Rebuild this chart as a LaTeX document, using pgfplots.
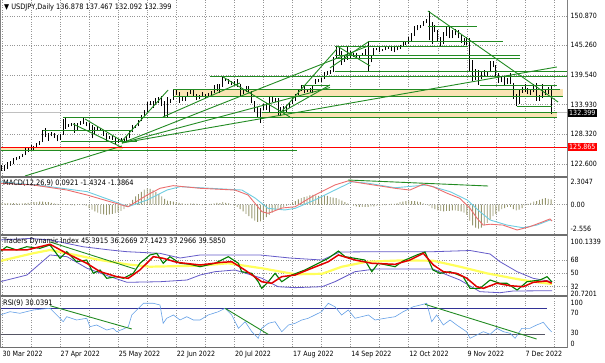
\documentclass[border=0pt]{standalone}
\usepackage{fontspec}
\setmainfont{DejaVu Sans}[FakeStretch=0.88]
\usepackage{pgfplots}
\pgfplotsset{compat=1.18}
\definecolor{gline}{RGB}{34,139,34}
\definecolor{tanc}{RGB}{250,228,180}
\definecolor{gridc}{RGB}{150,150,150}
\definecolor{sepc}{RGB}{110,110,110}
\definecolor{curc}{RGB}{192,192,192}
\definecolor{mred}{RGB}{235,110,110}
\definecolor{mcyan}{RGB}{110,205,225}
\definecolor{mhist}{RGB}{150,150,110}
\definecolor{tblue}{RGB}{100,90,200}
\definecolor{tyel}{RGB}{255,255,90}
\definecolor{tgreen}{RGB}{0,125,0}
\definecolor{tred}{RGB}{225,0,0}
\definecolor{rblue}{RGB}{100,160,230}
\definecolor{lvlb}{RGB}{50,50,150}
\definecolor{lvlg}{RGB}{85,85,100}
\newcommand{\lbl}{\fontsize{7.2}{8}\selectfont}
\newcommand{\ttl}{\fontsize{7.5}{8}\selectfont}
\pgfplotsset{
 panel/.style={scale only axis, width=567pt, xmin=-0.654, xmax=194.46,
   axis line style={draw=none}, tick style={draw=none},
   xtick={0,10,...,190}, xticklabels={}, xmajorgrids,
   major grid style={gridc, dash pattern=on 0.8pt off 1.6pt, line width=0.5pt},
   yticklabel pos=right,
   yticklabel style={font=\lbl, anchor=west, inner sep=0pt, xshift=3.5pt},
   anchor=north west},
 gl/.style={gline, line width=0.9pt},
}
\begin{document}
\begin{tikzpicture}
\path[use as bounding box] (0pt,0pt) rectangle (605pt,-363pt);
% ---------------- price panel ----------------
\begin{axis}[panel, at={(0pt,0pt)}, height=176pt, ymin=120.31, ymax=153.92,
  ytick={122.6,128.32,133.93,139.54,145.26,150.87},
  yticklabels={122.600,128.320,133.930,139.540,145.260,150.870}, ymajorgrids]
\addplot[fill=tanc, draw=none] coordinates {(-0.65,125.14) (41.3,125.14) (41.3,125.865) (-0.65,125.865)} -- cycle;
\addplot[fill=tanc, draw=none] coordinates {(59.6,135.45) (193.1,135.45) (193.1,136.83) (59.6,136.83)} -- cycle;
\addplot[fill=tanc, draw=none] coordinates {(89.5,131.45) (191,131.45) (191,132.40) (89.5,132.40)} -- cycle;
\addplot[curc, line width=0.6pt] coordinates {(-0.654,132.399) (194.46,132.399)};
\addplot[draw=none, mark=none, error bars/.cd, y dir=plus, y explicit, error mark=none,
  error bar style={draw=black, line width=0.85pt}]
  table[x=i, y=l, y error expr=\thisrow{h}-\thisrow{l}] {
i l h
0 121.3 122.4
1 121.3 122.4
2 121.6 123.0
3 122.2 123.1
4 122.6 123.7
5 123.3 124.0
6 123.6 124.1
7 123.9 124.6
8 124.3 125.8
9 124.9 125.6
10 125.1 126.3
11 125.0 126.0
12 125.8 126.6
13 126.2 127.0
14 126.8 129.0
15 127.7 129.4
16 127.0 128.6
17 127.9 128.8
18 127.6 128.6
19 126.9 128.2
20 127.1 128.4
21 128.2 131.2
22 129.3 131.3
23 129.7 130.2
24 129.8 130.4
25 128.6 130.4
26 128.9 130.5
27 130.1 130.8
28 130.3 131.3
29 129.8 130.6
30 129.1 130.4
31 127.5 130.0
32 128.3 129.7
33 128.9 129.6
34 129.0 129.5
35 128.0 129.0
36 127.0 128.6
37 127.4 128.0
38 127.2 128.0
39 126.4 127.8
40 126.6 127.4
41 126.9 127.6
42 126.6 127.3
43 126.9 127.9
44 127.5 128.9
45 128.7 130.0
46 129.5 130.1
47 129.8 131.0
48 130.8 131.9
49 131.8 133.0
50 132.6 134.5
51 133.8 134.6
52 133.3 134.6
53 133.8 135.2
54 134.2 135.4
55 133.6 135.6
56 131.5 134.7
57 131.6 135.4
58 134.3 135.1
59 134.9 136.7
60 135.8 136.7
61 134.3 136.3
62 134.6 135.4
63 134.6 135.5
64 135.4 136.4
65 136.0 137.0
66 135.6 136.9
67 134.8 135.9
68 135.0 135.8
69 135.5 136.4
70 135.3 136.0
71 135.5 136.2
72 135.7 136.6
73 136.2 137.7
74 136.5 137.8
75 136.2 137.9
76 137.3 139.4
77 138.4 139.1
78 137.9 138.9
79 137.6 138.4
80 137.7 138.4
81 137.4 138.9
82 135.6 137.9
83 136.0 136.9
84 136.4 137.5
85 136.3 137.5
86 134.2 136.6
87 132.5 134.6
88 131.6 133.5
89 130.4 133.3
90 132.9 134.0
91 132.9 134.2
92 132.5 135.5
93 134.4 135.6
94 134.5 135.2
95 132.0 135.3
96 131.7 133.4
97 132.6 133.6
98 132.6 133.9
99 133.2 134.5
100 134.0 135.2
101 134.6 135.9
102 135.7 137.0
103 136.6 137.6
104 136.2 137.7
105 136.3 137.0
106 136.3 137.2
107 136.1 137.6
108 137.9 138.8
109 138.2 138.9
110 138.3 139.1
111 138.8 140.2
112 139.6 140.3
113 139.8 140.6
114 140.2 143.0
115 142.9 145.0
116 143.4 144.8
117 141.5 144.1
118 142.1 143.2
119 142.5 144.9
120 142.6 144.2
121 143.0 143.8
122 142.7 143.8
123 142.8 143.5
124 143.2 143.8
125 143.2 144.6
126 140.3 145.9
127 142.0 143.4
128 143.3 144.8
129 144.3 144.8
130 143.9 144.9
131 144.1 144.6
132 144.3 144.9
133 144.6 145.2
134 144.2 145.0
135 143.9 144.9
136 144.3 145.2
137 144.6 145.4
138 145.2 145.9
139 145.4 146.0
140 145.6 146.9
141 146.0 147.7
142 147.1 148.9
143 148.1 149.1
144 148.6 149.2
145 149.0 150.0
146 149.6 150.3
147 146.2 151.9
148 145.5 149.7
149 147.8 149.1
150 146.0 148.2
151 145.1 146.9
152 145.6 147.9
153 147.1 148.8
154 146.6 148.8
155 146.6 148.1
156 147.2 148.4
157 146.6 148.2
158 145.7 147.3
159 145.3 146.7
160 145.3 146.8
161 140.2 146.6
162 138.5 142.5
163 138.7 140.8
164 137.7 140.6
165 138.9 140.3
166 139.2 140.5
167 139.5 140.4
168 140.1 142.3
169 141.1 142.2
170 139.3 141.6
171 138.1 139.9
172 138.2 139.4
173 137.5 139.4
174 137.8 139.0
175 137.8 139.9
176 135.0 138.1
177 133.6 136.0
178 134.1 136.7
179 136.2 137.4
180 136.4 137.8
181 136.0 137.1
182 135.8 136.9
183 136.3 137.9
184 134.7 138.0
185 134.6 135.8
186 135.2 137.9
187 135.8 137.0
188 136.0 137.4
189 132.092 137.467
};
% horizontal levels
\addplot[gl] coordinates {(-0.65,125.14) (101.5,125.14)};
\addplot[gl] coordinates {(14.1,129.1) (45.1,129.1)};
\addplot[gl] coordinates {(20.3,126.99) (46.5,126.99)};
\addplot[gl] coordinates {(21.0,131.45) (191,131.45)};
\addplot[gl] coordinates {(89.5,132.40) (191,132.40)};
\addplot[gl] coordinates {(58.9,135.45) (193.1,135.45)};
\addplot[gl] coordinates {(58.9,136.83) (192.1,136.83)};
\addplot[gl] coordinates {(164.5,137.69) (191,137.69)};
\addplot[gl] coordinates {(177.3,133.68) (189.3,133.68)};
\addplot[gl] coordinates {(71.6,139.41) (194.5,139.41)};
\addplot[gl] coordinates {(114.6,140.36) (194.5,140.36)};
\addplot[gl] coordinates {(114.6,142.79) (178.3,142.79)};
\addplot[gl] coordinates {(114.6,143.42) (178.3,143.42)};
\addplot[gl] coordinates {(114.6,145.14) (160.4,145.14)};
\addplot[gl] coordinates {(126,145.96) (172.4,145.96)};
\addplot[gl] coordinates {(146.6,148.96) (163.5,148.96)};
\addplot[gl] coordinates {(103.3,137.69) (112.9,137.69)};
% trend lines
\addplot[gl] coordinates {(7.95,120.31) (41.3,126.04)};
\addplot[gl] coordinates {(41.3,126.61) (126,145.14)};
\addplot[gl] coordinates {(41.3,126.61) (191,141.13)};
\addplot[gl] coordinates {(41.3,126.61) (112.9,137.2)};
\addplot[gl] coordinates {(41.3,126.99) (57.2,136.73)};
\addplot[gl] coordinates {(55.4,131.58) (81.9,138.07)};
\addplot[gl] coordinates {(28.6,131.2) (41.3,126.99)};
\addplot[gl] coordinates {(24.5,130.24) (41.7,125.66)};
\addplot[gl] coordinates {(76.1,139.22) (99.1,131.58)};
\addplot[gl] coordinates {(95.7,132.28) (115.3,144.6)};
\addplot[gl] coordinates {(95.7,132.28) (112.9,137.69)};
\addplot[gl] coordinates {(115.3,145.14) (126.7,141.32)};
\addplot[gl] coordinates {(112.9,140.94) (126,145.9)};
\addplot[gl] coordinates {(146.6,151.82) (191.4,134.44)};
\addplot[red, line width=0.6pt] coordinates {(-0.654,125.865) (194.46,125.865)};
\end{axis}
% ---------------- MACD panel ----------------
\begin{axis}[panel, at={(0pt,-178pt)}, height=56pt, ymin=-2.556, ymax=2.3047,
  ytick={-2.12,0,1.957}, yticklabels={-2.556,0.00,2.3047}]
\addplot[gridc, dash pattern=on 0.8pt off 1.6pt, line width=0.5pt] coordinates {(-0.654,0) (194.46,0)};
\addplot[ybar, bar width=0.9pt, bar shift=0pt, fill=mhist, draw=none] table {
0 0.1
1 0.1
2 0.12
3 0.1
4 0.12
5 0.1
6 0.08
7 0.1
8 0.12
9 0.15
10 0.18
11 0.2
12 0.22
13 0.25
14 0.25
15 0.22
16 0.2
17 0.15
18 0.1
19 0.06
20 0.04
21 0.05
22 0.03
23 -0.02
24 -0.05
25 -0.08
26 0.02
27 0.0
28 -0.05
29 -0.1
30 -0.3
31 -0.45
32 -0.6
33 -0.7
34 -0.8
35 -0.85
36 -0.9
37 -0.85
38 -0.8
39 -0.75
40 -0.65
41 -0.55
42 -0.4
43 -0.2
44 0.1
45 0.4
46 0.7
47 0.9
48 1.1
49 1.3
50 1.4
51 1.35
52 1.25
53 1.1
54 0.9
55 0.7
56 0.5
57 0.35
58 0.3
59 0.25
60 0.2
61 0.15
62 0.1
63 0.05
64 0.05
65 0.1
66 0.08
67 0.05
68 0.02
69 -0.05
70 -0.05
71 0.0
72 0.05
73 0.1
74 0.15
75 0.12
76 0.2
77 0.15
78 0.1
79 0.0
80 -0.1
81 -0.2
82 -0.4
83 -0.6
84 -0.8
85 -1.0
86 -1.2
87 -1.4
88 -1.5
89 -1.45
90 -1.3
91 -1.1
92 -0.9
93 -0.7
94 -0.5
95 -0.4
96 -0.3
97 -0.2
98 -0.1
99 0.0
100 0.15
101 0.3
102 0.45
103 0.55
104 0.65
105 0.7
106 0.8
107 0.85
108 0.8
109 0.75
110 0.7
111 0.8
112 0.75
113 0.65
114 0.6
115 0.55
116 0.45
117 0.35
118 0.2
119 0.1
120 0.0
121 -0.1
122 -0.15
123 -0.2
124 -0.2
125 -0.2
126 -0.2
127 -0.15
128 -0.15
129 -0.1
130 -0.1
131 -0.05
132 -0.05
133 0.0
134 0.05
135 0.05
136 0.1
137 0.2
138 0.25
139 0.3
140 0.35
141 0.3
142 0.3
143 0.25
144 0.2
145 0.1
146 0.0
147 -0.1
148 -0.3
149 -0.4
150 -0.5
151 -0.55
152 -0.6
153 -0.55
154 -0.55
155 -0.5
156 -0.5
157 -0.55
158 -0.6
159 -0.7
160 -0.9
161 -1.4
162 -1.8
163 -2.0
164 -2.1
165 -2.0
166 -1.8
167 -1.6
168 -1.3
169 -1.0
170 -0.8
171 -0.6
172 -0.4
173 -0.3
174 -0.2
175 -0.2
176 -0.4
177 -0.5
178 -0.45
179 -0.3
180 -0.1
181 0.05
182 0.15
183 0.25
184 0.3
185 0.4
186 0.5
187 0.55
188 0.5
189 0.45
};
\addplot[mcyan, line width=0.9pt] coordinates {(-0.65,1.98) (15,1.6) (29.3,1.12) (37.2,0.40) (43.4,-0.19) (50,0.40) (56.8,1.26) (61.3,1.55) (68.2,1.46) (82.6,1.26) (87.1,0.57) (91.6,-0.33) (97.4,-0.47) (100.9,-0.33) (107.7,0.40) (114.6,1.26) (120.5,1.98) (126,1.85) (135.3,1.46) (146.3,1.70) (154.2,1.12) (160.1,0.40) (164.5,-0.62) (168,-1.34) (173.8,-1.78) (179.3,-2.01) (184.1,-1.78) (188.6,-1.34) (189.3,-1.39)};
\addplot[mred, line width=0.9pt] coordinates {(-0.65,1.85) (10.7,1.70) (22.4,1.26) (29.3,0.83) (37.2,0.25) (43.4,-0.19) (50,0.83) (54.4,1.41) (58.9,1.64) (68.2,1.41) (80.2,1.26) (84.7,0.83) (89.5,-0.62) (91.6,-0.76) (96.4,-0.30) (100.9,-0.19) (107.7,0.83) (114.6,1.70) (119.1,2.05) (124,1.85) (135.3,1.41) (140.4,1.26) (144.9,1.76) (148.3,1.55) (153.2,0.98) (157.6,0.54) (161.1,-0.33) (163.5,-1.19) (165.6,-1.78) (168,-1.71) (172.4,-1.78) (177.3,-2.21) (181.7,-1.92) (186.2,-1.49) (188.6,-1.25) (189.3,-1.43)};
\addplot[gl] coordinates {(119.1,2.13) (167.3,1.61)};
\end{axis}
% ---------------- TDI panel ----------------
\begin{axis}[panel, at={(0pt,-236pt)}, height=59pt, ymin=20.7201, ymax=100.1339,
  ytick={32,50,68}, yticklabels={32,50,68}, ymajorgrids,
  extra y ticks={22.9,92.06}, extra y tick labels={20.7201,100.1339},
  extra y tick style={grid=none}]
\addplot[tblue, line width=0.8pt] coordinates {(-0.65,94.8) (9.67,96.8) (16.55,94.8) (27.9,85.7) (37.2,81.3) (43.05,79.0) (54.4,76.8) (61.3,70.5) (68.2,74.6) (78.5,74.6) (88.8,74.6) (99.1,70.5) (110.2,67.8) (116.3,78.6) (130.1,79.0) (148.3,79.0) (161.1,80.6) (168.0,75.9) (171.4,65.5) (177.3,52.1) (182.8,43.2) (189.3,38.6)};
\addplot[tblue, line width=0.8pt] coordinates {(-0.65,38.6) (8.6,47.6) (16.55,74.6) (22.4,72.3) (29.3,56.7) (37.2,45.4) (43.05,37.8) (54.4,38.6) (63.7,40.9) (68.2,47.6) (73.3,52.1) (80.2,54.4) (89.5,43.2) (95.0,31.9) (100.9,30.6) (110.2,31.9) (114.6,38.6) (121.5,52.1) (128.4,55.7) (148.3,55.7) (151.8,49.9) (157.6,40.9) (164.5,25.2) (171.4,23.8) (175.9,26.1) (189.3,26.5)};
\addplot[tyel, line width=2.2pt] coordinates {(-0.65,66.5) (10.7,76.8) (16.55,81.3) (22.4,76.8) (33.8,67.8) (43.05,62.0) (50.96,58.8) (68.2,60.2) (77.8,63.4) (89.5,56.7) (100.9,48.6) (110.2,49.3) (117.0,58.8) (125.6,65.5) (137.0,67.2) (148.3,66.9) (157.6,58.8) (166.9,49.9) (175.9,43.2) (182.8,38.6) (189.3,35.5)};
\addplot[tgreen, line width=1.1pt] coordinates {(-0.65,79.0) (1.65,85.7) (5.1,81.3) (8.5,85.7) (13.1,83.6) (16.55,88.0) (20.0,70.1) (22.3,79.0) (25.7,65.5) (29.2,67.8) (31.45,49.9) (33.8,54.4) (36.06,43.2) (39.5,45.4) (41.8,43.2) (45.2,49.9) (47.5,63.4) (50.96,74.6) (53.3,76.8) (55.5,63.4) (57.8,72.3) (61.3,63.4) (64.7,62.0) (68.2,58.8) (73.3,63.4) (77.9,72.3) (81.4,63.4) (82.5,52.1) (86.0,49.9) (88.2,38.6) (89.4,29.7) (91.7,38.6) (94.0,49.9) (96.3,38.6) (99.7,47.6) (104.3,54.4) (108.9,63.4) (112.3,70.1) (115.8,79.9) (118.1,72.3) (121.5,70.1) (124.9,67.8) (127.3,52.1) (129.5,63.4) (135.3,58.8) (138.0,66.5) (142.8,74.6) (145.6,78.6) (148.3,54.4) (150.8,49.9) (154.2,52.1) (158.7,45.4) (161.1,29.7) (164.5,29.7) (168.0,40.9) (171.4,36.5) (173.8,36.5) (177.3,27.4) (180.7,38.6) (185.2,40.9) (187.6,45.4) (189.3,38.2)};
\addplot[tred, line width=1.5pt] coordinates {(-0.65,81.3) (8.5,81.3) (16.55,89.0) (22.3,76.8) (29.2,63.4) (33.8,52.1) (39.5,45.4) (43.5,43.2) (47.5,54.4) (52.1,72.3) (55.5,70.1) (60.2,64.7) (68.2,61.1) (75.6,64.7) (79.1,65.5) (83.6,54.4) (89.4,38.6) (92.8,36.5) (96.3,45.4) (100.9,47.6) (106.6,56.7) (112.3,65.5) (115.8,74.6) (121.5,67.8) (127.3,63.4) (135.3,62.0) (140.4,67.8) (145.0,76.8) (148.5,61.1) (151.9,52.1) (156.5,49.9) (160.0,43.2) (163.4,31.9) (165.7,29.7) (170.3,36.5) (174.9,33.2) (179.4,31.9) (182.9,37.8) (187.5,39.6) (189.2,36.5)};
\addplot[gl] coordinates {(16.55,92.1) (45.8,55.7)};
\end{axis}
% ---------------- RSI panel ----------------
\begin{axis}[panel, at={(0pt,-297pt)}, height=50pt, ymin=0, ymax=100,
  ytick={6.6,28,69,88.6}, yticklabels={0,30,70,100},
  xticklabels={30 Mar 2022,,27 Apr 2022,,25 May 2022,,22 Jun 2022,,20 Jul 2022,,17 Aug 2022,,14 Sep 2022,,12 Oct 2022,,9 Nov 2022,,7 Dec 2022,},
  xticklabel style={font=\lbl, anchor=north west, inner sep=0pt, xshift=0.5pt, yshift=-4pt}]
\addplot[lvlb, line width=0.9pt] coordinates {(-0.654,77.4) (187.6,77.4)};
\addplot[lvlg, line width=0.9pt] coordinates {(-0.654,25.4) (186.9,25.4)};
\addplot[rblue, line width=0.6pt] coordinates {(-0.65,64) (2.8,70.6) (6.2,67.4) (10.8,74) (16.55,77.4) (18.9,64) (21.1,50.6) (22.3,60.6) (25.7,54) (29.2,57.4) (30.3,40.6) (32.6,44) (36.1,34) (38.3,37.4) (39.5,30.6) (41.8,36) (43.5,40.6) (44.7,64) (46.4,74) (48.7,87.4) (52.1,87.4) (54.4,84) (55.5,47.4) (56.7,57.4) (59.0,64) (61.3,54) (63.6,60.6) (65.9,54) (68.2,54) (71.0,64) (74.5,70.6) (76.8,77.4) (79.1,64) (81.4,37.4) (83.7,50.6) (86.0,30.6) (88.2,17.4) (89.4,37.4) (91.7,47.4) (94.0,50.6) (96.3,30.6) (98.6,44) (100.9,47.4) (103.2,54) (105.4,57.4) (107.7,64) (110.0,70.6) (112.3,87.4) (114.6,80.6) (116.9,64) (119.2,74) (121.5,57.4) (126.1,64) (128.4,54) (131.8,57.4) (135.3,60.6) (138.1,70.6) (141.6,80.6) (145.0,85.4) (146.2,87.4) (147.9,50.6) (149.6,64) (151.9,44) (154.2,54) (156.5,44) (159.9,30.6) (161.1,17.4) (163.4,24) (165.7,30.6) (168.0,25.4) (170.3,37.4) (172.6,30.6) (174.9,27.4) (176.6,17.4) (178.9,37.4) (181.7,37.4) (184.0,44) (186.3,49.4) (188.0,37.4) (189.2,30.0)};
\addplot[gl] coordinates {(16.55,82.6) (44.7,36)};
\addplot[gl] coordinates {(76.8,77.4) (91.6,25.4)};
\addplot[gl] coordinates {(145.6,85.4) (184.0,16)};
\end{axis}
% ---------------- frames and labels ----------------
\draw[sepc, line width=2pt] (0pt,-177pt) -- (567pt,-177pt);
\draw[sepc, line width=2pt] (0pt,-235pt) -- (567pt,-235pt);
\draw[sepc, line width=2pt] (0pt,-296pt) -- (567pt,-296pt);
\draw[sepc, line width=1.2pt] (0pt,-347.6pt) -- (567pt,-347.6pt);
\draw[gray, line width=0.8pt] (567pt,0pt) -- (567pt,-348pt);
\draw[gray, line width=0.8pt] (0.4pt,0pt) -- (0.4pt,-348pt);
\node[anchor=west, font=\ttl, inner sep=0pt] at (4pt,-7pt) {▼ USDJPY,Daily 136.878 137.467 132.092 132.399};
\node[anchor=west, font=\ttl, inner sep=0pt] at (3pt,-183.5pt) {MACD(12,26,9) 0.0921 -1.4324 -1.3864};
\node[anchor=west, font=\ttl, inner sep=0pt] at (3pt,-241.5pt) {Traders Dynamic Index 45.3915 36.2669 27.1423 37.2966 39.5850};
\node[anchor=west, font=\ttl, inner sep=0pt] at (3pt,-303.5pt) {RSI(9) 30.0391};
\node[anchor=west, fill=black, text=white, font=\lbl, inner xsep=1.5pt, inner ysep=1.2pt] at (567.5pt,-113pt) {132.399};
\node[anchor=west, fill=red, text=white, font=\lbl, inner xsep=1.5pt, inner ysep=1.2pt] at (567.5pt,-147pt) {125.865};
\end{tikzpicture}
\end{document}
